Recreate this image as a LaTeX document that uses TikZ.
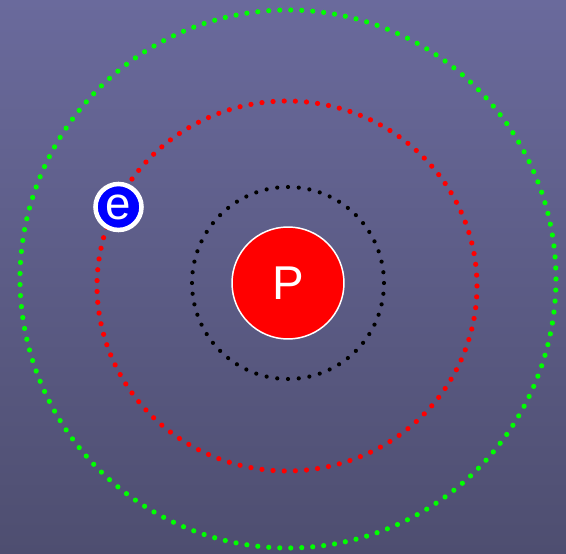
\documentclass[tikz,border=0pt]{standalone}
\usepackage{fontspec}
\setmainfont{Liberation Sans}
\definecolor{bgtop}{RGB}{106,106,156}
\definecolor{bgmiddle}{RGB}{101,101,148}
\definecolor{bgbottom}{RGB}{78,78,112}
\definecolor{orbitgreen}{RGB}{0,255,0}

\begin{document}
\begin{tikzpicture}[x=0.02cm, y=-0.02cm,
    nucleus/.style={circle, draw=white, line width=0.85pt, fill=red, minimum size=2.24cm, inner sep=0pt, text=white, font=\fontsize{27}{27}\selectfont},
    electron/.style={circle, draw=white, line width=2.6pt, fill=blue, minimum size=0.92cm, inner sep=0pt, text=white, font=\fontsize{26}{26}\selectfont}
]
    \shade[top color=bgtop, middle color=bgmiddle, bottom color=bgbottom] (0,0) rectangle (566,554);
    \useasboundingbox (0,0) rectangle (566,554);

    % orbits
    \foreach \k in {1,...,153}
        \fill[orbitgreen] ({288+268*cos(360/153*\k)},{279+269*sin(360/153*\k)}) circle[radius=2.6];
    \foreach \k in {1,...,107}
        \fill[red] ({287+190*cos(360/107*\k)},{286+185*sin(360/107*\k)}) circle[radius=2.6];
    \foreach \k in {1,...,56}
        \fill[black] ({288+96*cos(360/56*\k)},{283+96*sin(360/56*\k)}) circle[radius=2.1];

    \node[nucleus] (p) at (288,283) {P};
    \node[electron] (e) at (118.5,207) {e};
\end{tikzpicture}
\end{document}
